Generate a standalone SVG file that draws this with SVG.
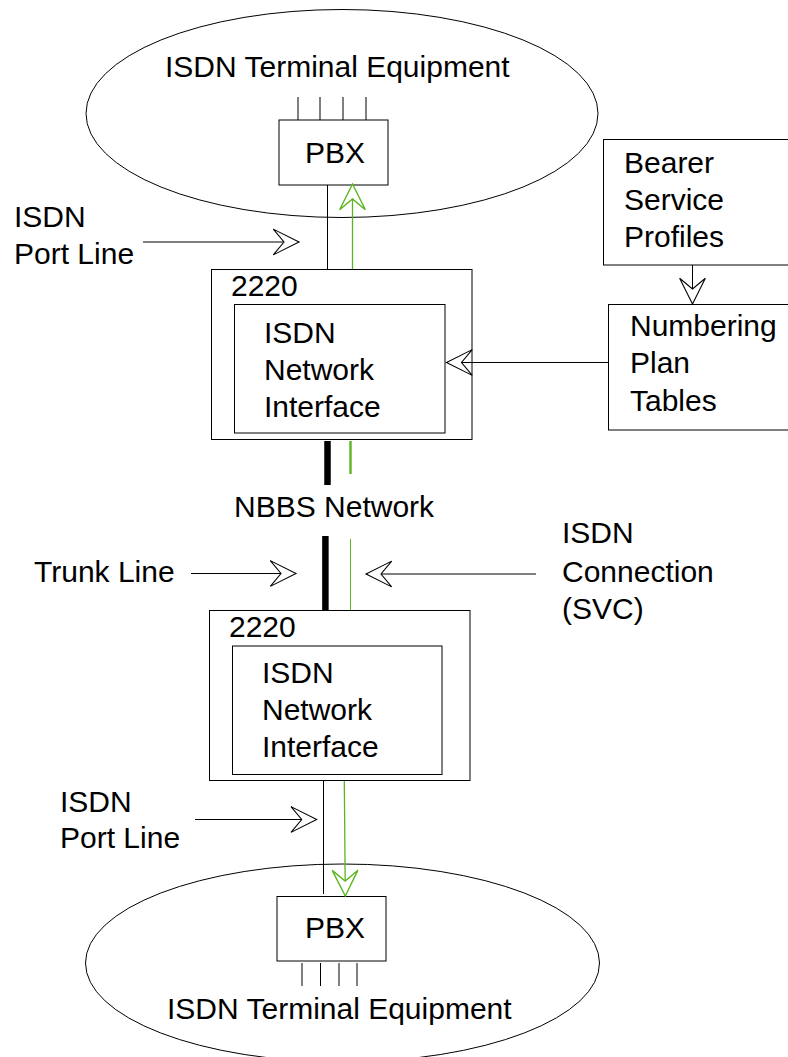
<svg xmlns="http://www.w3.org/2000/svg" width="788" height="1057" viewBox="0 0 788 1057">
<style>
text{font-family:"Liberation Sans",Arial,sans-serif;font-size:30px;fill:#000}
.box{fill:#fff;stroke:#000;stroke-width:1}
.ell{fill:none;stroke:#000;stroke-width:1}
.ln{stroke:#000;stroke-width:1;fill:none}
.gr{stroke:#5cb520;stroke-width:1.3;fill:none}
</style>
<defs>
<marker id="ah" markerUnits="userSpaceOnUse" markerWidth="30" markerHeight="30" viewBox="-26 -14 28 28" refX="0" refY="0" orient="auto" overflow="visible">
<path d="M0,0 L-24,-12 L-14,0 L-24,12 Z" fill="#fff" stroke="#000" stroke-width="1"/>
</marker>
<marker id="ahg" markerUnits="userSpaceOnUse" markerWidth="30" markerHeight="30" viewBox="-26 -14 28 28" refX="0" refY="0" orient="auto" overflow="visible">
<path d="M0,0 L-24,-12 L-14,0 L-24,12 Z" fill="#fff" stroke="#5cb520" stroke-width="1.3"/>
</marker>
</defs>
<rect width="788" height="1057" fill="#fff"/>

<g id="te-top">
<ellipse class="ell" cx="342" cy="113.5" rx="256" ry="104"/>
<text x="165" y="77">ISDN Terminal Equipment</text>
</g>
<g id="pbx-top">
<rect class="box" x="279" y="120" width="109" height="65"/>
<text x="305" y="163">PBX</text>
<path class="ln" d="M298,97V120M320,97V120M343,97V120M366,97V120"/>
</g>
<g id="bearer">
<rect class="box" x="603.5" y="139.5" width="200" height="125.5"/>
<text x="624" y="173">Bearer</text>
<text x="624" y="210">Service</text>
<text x="624" y="247">Profiles</text>
</g>
<g id="numbering">
<rect class="box" x="608.5" y="304.5" width="200" height="125.5"/>
<text x="630" y="335.5">Numbering</text>
<text x="630" y="373">Plan</text>
<text x="630" y="410.5">Tables</text>
</g>
<g id="n2220-top">
<rect class="box" x="211.5" y="269.5" width="260.5" height="170"/>
<text x="231" y="296">2220</text>
<rect class="box" x="234.5" y="304.5" width="210.5" height="128.5"/>
<text x="264" y="343">ISDN</text>
<text x="264" y="380">Network</text>
<text x="264" y="417">Interface</text>
</g>
<g id="nbbs">
<text x="234" y="517">NBBS Network</text>
</g>
<g id="n2220-bottom">
<rect class="box" x="209.5" y="610.5" width="260.5" height="170"/>
<text x="229" y="637">2220</text>
<rect class="box" x="232.5" y="646" width="209.5" height="128.5"/>
<text x="262" y="683">ISDN</text>
<text x="262" y="720">Network</text>
<text x="262" y="757">Interface</text>
</g>
<g id="te-bottom">
<ellipse class="ell" cx="342.5" cy="963" rx="257" ry="99"/>
<text x="167" y="1019">ISDN Terminal Equipment</text>
</g>
<g id="pbx-bottom">
<rect class="box" x="277" y="896.5" width="109" height="64.5"/>
<text x="305" y="938">PBX</text>
<path class="ln" d="M302,963V986M320.5,963V986M339,963V986M357,963V986"/>
</g>
<g id="labels">
<text x="14" y="227">ISDN</text>
<text x="14" y="264">Port Line</text>
<text x="34" y="582">Trunk Line</text>
<text x="562" y="543">ISDN</text>
<text x="562" y="582">Connection</text>
<text x="562" y="619">(SVC)</text>
<text x="60" y="812">ISDN</text>
<text x="60" y="848">Port Line</text>
</g>

<g id="connectors">
<line class="ln" x1="327.5" y1="185" x2="327.5" y2="269"/>
<line class="gr" x1="352.5" y1="269" x2="352.5" y2="184" marker-end="url(#ahg)"/>
<line class="ln" x1="143" y1="242" x2="299" y2="242" marker-end="url(#ah)"/>
<line class="ln" x1="692.5" y1="265" x2="692.5" y2="304" marker-end="url(#ah)"/>
<line class="ln" x1="608" y1="362.5" x2="446.5" y2="362.5" marker-end="url(#ah)"/>
<line stroke="#000" stroke-width="6.5" x1="327.5" y1="441" x2="327.5" y2="485"/>
<line stroke="#5cb520" stroke-width="2.4" x1="350.5" y1="441" x2="350.5" y2="474"/>
<line stroke="#000" stroke-width="6.5" x1="325.4" y1="536" x2="325.4" y2="610"/>
<line stroke="#5cb520" stroke-width="1" x1="350.5" y1="539" x2="350.5" y2="610"/>
<line class="ln" x1="191" y1="573.5" x2="296" y2="573.5" marker-end="url(#ah)"/>
<line class="ln" x1="536" y1="574" x2="366" y2="574" marker-end="url(#ah)"/>
<line class="ln" x1="323.5" y1="781" x2="323.5" y2="894"/>
<line class="gr" x1="344.3" y1="781" x2="345.3" y2="896" marker-end="url(#ahg)"/>
<line class="ln" x1="195" y1="819.5" x2="316.7" y2="819.5" marker-end="url(#ah)"/>
</g>
</svg>
